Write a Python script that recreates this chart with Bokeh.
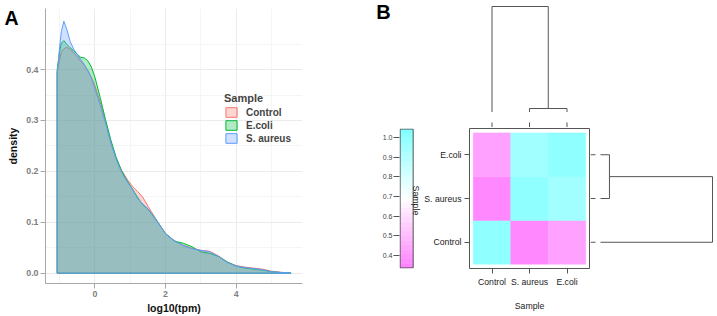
from bokeh.plotting import figure
from bokeh.models import (Range1d, FixedTicker, Title, Legend, LegendItem,
                          NumeralTickFormatter, ColumnDataSource)
from bokeh.layouts import row, column
from bokeh.embed import file_html
from bokeh.resources import INLINE

# ---------------- Panel A data (density of log10(tpm)) ----------------
log10_tpm = [-1.07, -1.0, -0.95, -0.88, -0.8, -0.7, -0.6, -0.5, -0.4, -0.3, -0.2, -0.1,
             0.0, 0.15, 0.3, 0.45, 0.6, 0.75, 0.9, 1.05, 1.2, 1.35, 1.5, 1.75, 2.0,
             2.25, 2.5, 2.75, 3.0, 3.25, 3.5, 3.75, 4.0, 4.25, 4.5, 4.75, 5.0, 5.25, 5.55]
density_control = [0.395, 0.42, 0.435, 0.441, 0.444, 0.44, 0.433, 0.425, 0.416, 0.408, 0.398,
                   0.385, 0.368, 0.336, 0.298, 0.258, 0.226, 0.203, 0.186, 0.172, 0.161, 0.150,
                   0.132, 0.104, 0.078, 0.064, 0.055, 0.049, 0.045, 0.043, 0.034, 0.022, 0.015,
                   0.012, 0.010, 0.008, 0.004, 0.002, 0.0005]
density_ecoli = [0.40, 0.435, 0.452, 0.457, 0.450, 0.443, 0.437, 0.430, 0.424, 0.423, 0.417,
                 0.405, 0.385, 0.345, 0.302, 0.262, 0.228, 0.202, 0.183, 0.167, 0.150, 0.135,
                 0.126, 0.103, 0.078, 0.063, 0.059, 0.052, 0.042, 0.039, 0.033, 0.022, 0.014,
                 0.010, 0.008, 0.006, 0.003, 0.0015, 0.0005]
density_saureus = [0.39, 0.445, 0.475, 0.495, 0.48, 0.455, 0.440, 0.430, 0.420, 0.410, 0.398,
                   0.383, 0.362, 0.330, 0.295, 0.256, 0.224, 0.199, 0.181, 0.166, 0.148, 0.136,
                   0.127, 0.104, 0.077, 0.064, 0.054, 0.048, 0.045, 0.042, 0.033, 0.021, 0.014,
                   0.011, 0.009, 0.007, 0.003, 0.0015, 0.0005]
series_names = ["Control", "E.coli", "S. aureus"]
series_colors = ["#F8766D", "#00BA38", "#619CFF"]
x_ticks_A = [0, 2, 4]
x_minor_A = [-1, 1, 3, 5]
y_ticks_A = [0.0, 0.1, 0.2, 0.3, 0.4]
y_minor_A = [0.05, 0.15, 0.25, 0.35, 0.45]

# ---------------- Panel B data (sample similarity heatmap) ----------------
samples = ["Control", "S. aureus", "E.coli"]          # order on both axes
similarity = [[1.00, 0.36, 0.43],
              [0.36, 1.00, 0.95],
              [0.43, 0.95, 1.00]]
colorbar_ticks = [0.4, 0.5, 0.6, 0.7, 0.8, 0.9, 1.0]
colorbar_limits = [0.337, 1.043]
# dendrogram merges: (node_a, node_b, height); leaves 0..2, merged nodes 3, 4
col_merges = [(1, 2, 0.033), (0, 3, 1.0)]
row_merges = [(1, 2, 0.08), (0, 3, 1.0)]

FONT = "Liberation Sans"
LINE = "#555555"
TICK_PX = 5


def region_color(v, lo, hi):
    t = min(max((v - lo) / (hi - lo), 0.0), 1.0)
    mag, white, cyan = (255, 128, 255), (255, 255, 255), (128, 255, 255)
    if t < 0.5:
        a, b, s = mag, white, t / 0.5
    else:
        a, b, s = white, cyan, (t - 0.5) / 0.5
    c = [round(a[k] + (b[k] - a[k]) * s) for k in range(3)]
    return "#%02x%02x%02x" % tuple(c)


def dendro_segments(merges, n_leaves):
    pos = {i: (float(i), 0.0) for i in range(n_leaves)}
    segs = []
    nxt = n_leaves
    for a, b, h in merges:
        pa, ha = pos[a]
        pb, hb = pos[b]
        segs.append((pa, ha, pa, h))
        segs.append((pb, hb, pb, h))
        segs.append((pa, h, pb, h))
        pos[nxt] = ((pa + pb) / 2.0, h)
        nxt += 1
    return segs


# ======================= Panel A =======================
pA = figure(width=360, height=316, x_range=Range1d(-1.40, 5.88), y_range=Range1d(-0.0202, 0.52),
            output_backend="svg", toolbar_location=None,
            min_border_left=45, min_border_right=58, min_border_top=8, min_border_bottom=33)
pA.outline_line_color = None

renderers = []
for name, col, ys in zip(series_names, series_colors,
                         [density_control, density_ecoli, density_saureus]):
    px = [log10_tpm[0]] + list(log10_tpm) + [log10_tpm[-1]]
    py = [0.0] + list(ys) + [0.0]
    r = pA.patch(px, py, fill_color=col, fill_alpha=0.3, line_color=col, line_width=1)
    renderers.append(r)

pA.xaxis.ticker = FixedTicker(ticks=x_ticks_A, minor_ticks=x_minor_A)
pA.yaxis.ticker = FixedTicker(ticks=y_ticks_A, minor_ticks=y_minor_A)
pA.yaxis.formatter = NumeralTickFormatter(format="0.0")
for ax in (pA.xaxis, pA.yaxis):
    ax.axis_line_color = "#A8A8A8"
    ax.major_tick_line_color = "#A8A8A8"
    ax.major_tick_out = 5
    ax.major_tick_in = 0
    ax.minor_tick_line_color = None
    ax.major_label_text_font = FONT
    ax.major_label_text_font_size = "8.8px"
    ax.major_label_text_font_style = "bold"
    ax.major_label_text_color = "#808080"
    ax.major_label_standoff = 2
    ax.axis_label_text_font = FONT
    ax.axis_label_text_font_size = "10.5px"
    ax.axis_label_text_font_style = "bold"
    ax.axis_label_text_color = "#111111"
pA.xaxis.axis_label = "log10(tpm)"
pA.yaxis.axis_label = "density"
pA.xaxis.axis_label_standoff = 2
pA.yaxis.axis_label_standoff = 4
for g in (pA.xgrid, pA.ygrid):
    g.grid_line_color = "#EBEBEB"
    g.minor_grid_line_color = "#F5F5F5"

legend = Legend(items=[LegendItem(label=n, renderers=[r]) for n, r in zip(series_names, renderers)],
                location=(179, 139), title="Sample")
legend.title_text_font = FONT
legend.title_text_font_size = "11px"
legend.title_text_font_style = "bold"
legend.title_standoff = 2
legend.label_text_font = FONT
legend.label_text_font_size = "10px"
legend.label_text_font_style = "bold"
legend.glyph_width = 14
legend.glyph_height = 12
legend.label_height = 12
legend.label_standoff = 8
legend.spacing = 1
legend.padding = 0
legend.margin = 0
legend.border_line_color = None
legend.background_fill_alpha = 0
pA.add_layout(legend)

# panel letter as a title in the (thin) top border, pulled down beside the axis
pA.add_layout(Title(text="A", align="left", offset=-41, standoff=-40, vertical_align="bottom",
                    text_font=FONT, text_font_size="19.5px", text_font_style="bold",
                    text_color="black"), "above")

# ======================= Panel B =======================
hx_range = Range1d(-0.6, 2.6)
hy_range = Range1d(-0.6, 2.6)
lo, hi = colorbar_limits

# --- top strip: panel letter + column dendrogram (+ heatmap's top tick marks) ---
x_units = 37.5                           # pixels per heatmap column
x0_px = 131.5                            # first column centre, from strip's left edge
top_units = 105.5                        # pixels per unit of dendrogram height
top_start = -15.5 / top_units
pTop = figure(width=357, height=127,
              x_range=Range1d(-x0_px / x_units, (357 - x0_px) / x_units),
              y_range=Range1d(top_start, 1.019),
              output_backend="svg", toolbar_location=None,
              x_axis_location=None, y_axis_location=None,
              min_border_left=0, min_border_right=0, min_border_top=4, min_border_bottom=0)
pTop.outline_line_color = None
pTop.grid.visible = False
segs = dendro_segments(col_merges, len(samples))
pTop.segment(x0=[s[0] for s in segs], y0=[s[1] for s in segs],
             x1=[s[2] for s in segs], y1=[s[3] for s in segs], line_color=LINE, line_width=1)
leaf_pos = list(range(len(samples)))
pTop.segment(x0=leaf_pos, x1=leaf_pos, y0=[top_start] * len(samples),
             y1=[top_start + TICK_PX / top_units] * len(samples), line_color=LINE, line_width=1)
pTop.text(x=[-3.09], y=[0.950], text=["B"], text_font={"value": FONT}, text_font_size="20px",
          text_font_style="bold", text_baseline="middle", text_align="left", text_color="black")

# --- colour key ---
pCB = figure(width=61, height=189, x_range=Range1d(-0.05, 1.642),
             y_range=Range1d(0.334, 1.0458),
             output_backend="svg", toolbar_location=None, x_axis_location=None,
             min_border_left=39, min_border_right=0, min_border_top=1, min_border_bottom=48)
pCB.outline_line_color = None
pCB.grid.visible = False
n_bands = 30
edges = [lo + (hi - lo) * k / n_bands for k in range(n_bands + 1)]
band_cols = [region_color((edges[k] + edges[k + 1]) / 2, lo, hi) for k in range(n_bands)]
pCB.quad(left=0, right=1, bottom=edges[:-1], top=edges[1:], fill_color=band_cols,
         line_color=band_cols, line_width=0.5)
pCB.quad(left=[0], right=[1], bottom=[lo], top=[hi], fill_color=None, line_color=LINE, line_width=1)
pCB.text(x=[1.25], y=[0.68], text=["Sample"], angle=-1.5707963, text_align="center",
         text_baseline="middle", text_font_size="8.8px", text_color="#222222",
         text_font={"value": FONT})
pCB.yaxis.ticker = FixedTicker(ticks=colorbar_ticks)
pCB.yaxis.formatter = NumeralTickFormatter(format="0.0")
pCB.yaxis.axis_line_color = None
pCB.yaxis.major_tick_line_color = LINE
pCB.yaxis.major_tick_out = 6
pCB.yaxis.major_tick_in = 0
pCB.yaxis.minor_tick_line_color = None
pCB.yaxis.major_label_standoff = 1
pCB.yaxis.major_label_text_font = FONT
pCB.yaxis.major_label_text_font_size = "7px"
pCB.yaxis.major_label_text_color = "#444444"

# --- heatmap ---
pH = figure(width=169, height=189, x_range=hx_range, y_range=hy_range,
            output_backend="svg", toolbar_location=None,
            min_border_left=48, min_border_right=1, min_border_top=1, min_border_bottom=48)
pH.grid.visible = False
pH.outline_line_color = LINE
pH.outline_line_width = 1
hx, hy, hc = [], [], []
for i in range(len(samples)):
    for j in range(len(samples)):
        hx.append(j)
        hy.append(i)
        hc.append(region_color(similarity[i][j], lo, hi))
pH.rect(x="x", y="y", width=1, height=1, fill_color="c", line_color="c", line_width=0.5,
        source=ColumnDataSource(dict(x=hx, y=hy, c=hc)))
labels = {i: s for i, s in enumerate(samples)}
for ax in pH.axis:
    ax.ticker = FixedTicker(ticks=list(range(len(samples))))
    ax.major_label_overrides = labels
    ax.axis_line_color = None
    ax.major_tick_line_color = LINE
    ax.major_tick_out = TICK_PX
    ax.major_tick_in = 0
    ax.minor_tick_line_color = None
    ax.major_label_text_font = FONT
    ax.major_label_text_font_size = "8.7px"
    ax.major_label_text_color = "#222222"
    ax.major_label_standoff = 3
pH.xaxis.axis_label = "Sample"
pH.xaxis.axis_label_text_font = FONT
pH.xaxis.axis_label_text_font_size = "8.7px"
pH.xaxis.axis_label_text_font_style = "normal"
pH.xaxis.axis_label_text_color = "#222222"
pH.xaxis.axis_label_standoff = 11

# --- right dendrogram (also carries the heatmap's right tick marks) ---
right_units = 112.0
right_start = -10.0 / right_units
pR = figure(width=127, height=189, x_range=Range1d(right_start, right_start + 127 / right_units),
            y_range=hy_range, output_backend="svg", toolbar_location=None,
            x_axis_location=None, y_axis_location=None,
            min_border_left=0, min_border_right=0, min_border_top=1, min_border_bottom=48)
pR.outline_line_color = None
pR.grid.visible = False
rsegs = dendro_segments(row_merges, len(samples))
pR.segment(x0=[s[1] for s in rsegs], y0=[s[0] for s in rsegs],
           x1=[s[3] for s in rsegs], y1=[s[2] for s in rsegs], line_color=LINE, line_width=1)
pR.segment(x0=[right_start] * len(samples), x1=[right_start + TICK_PX / right_units] * len(samples),
           y0=leaf_pos, y1=leaf_pos, line_color=LINE, line_width=1)

layout = row(pA, column(pTop, row(pCB, pH, pR)))
open("out.html", "w").write(file_html(layout, INLINE))
